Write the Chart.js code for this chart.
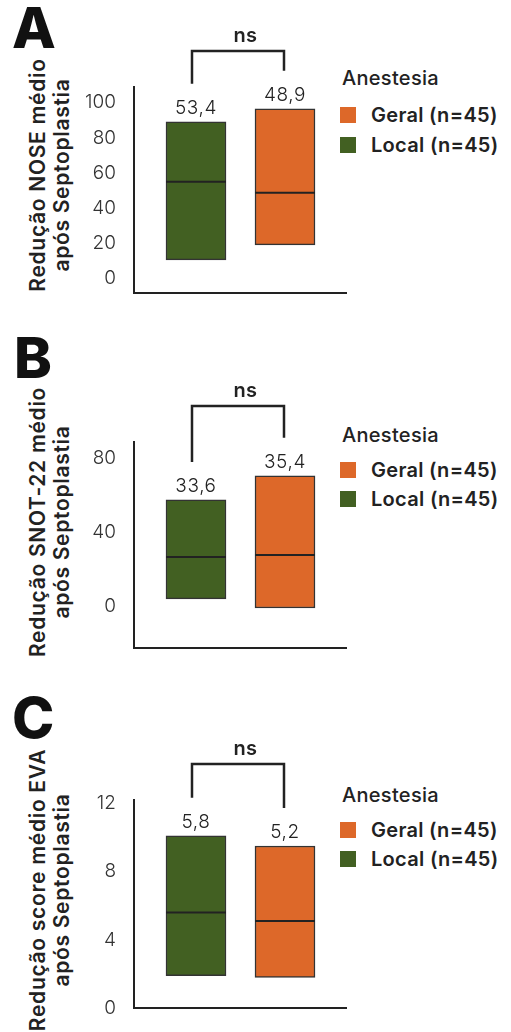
<!DOCTYPE html>
<html>
<head>
<meta charset="utf-8">
<script src="https://cdn.jsdelivr.net/npm/chart.js@4.4.0/dist/chart.umd.min.js"></script>
<style>
  html, body { margin: 0; padding: 0; background: #fff; }
  body { width: 511px; height: 1032px; position: relative; overflow: hidden; font-family: Inter, 'Noto Sans', sans-serif; color: #222; }
  canvas { position: absolute; left: 0; }
  .letter { position: absolute; font-size: 57px; font-weight: 800; line-height: 1; color: #111; }
  .ytitle { position: absolute; width: 320px; height: 48px; line-height: 24px; text-align: center;
            font-size: 21px; font-weight: 600; letter-spacing: 0.7px; transform: rotate(-90deg); white-space: nowrap; }
  .legend { position: absolute; left: 340px; font-size: 20px; letter-spacing: 0.3px; }
  .legend div { position: absolute; white-space: nowrap; height: 24px; line-height: 24px; }
  .legend .head { left: 2px; font-weight: 500; }
  .legend .item { left: 0; font-weight: 600; padding-left: 31px; }
  .legend .item i { position: absolute; left: 0; top: 4px; width: 16px; height: 16px; }
</style>
</head>
<body>

<div class="letter" style="left:12px; top:-1px">A</div>
<div class="ytitle" id="t0" style="left:-110px; top:151px"></div>
<div class="legend" id="l0" style="top:0"></div>
<canvas id="c0" width="511" height="320" style="top:0"></canvas>

<div class="letter" style="left:14px; top:329px">B</div>
<div class="ytitle" id="t1" style="left:-110px; top:498px"></div>
<div class="legend" id="l1" style="top:0"></div>
<canvas id="c1" width="511" height="350" style="top:320px"></canvas>

<div class="letter" style="left:12px; top:689px">C</div>
<div class="ytitle" id="t2" style="left:-110px; top:866px"></div>
<div class="legend" id="l2" style="top:0"></div>
<canvas id="c2" width="511" height="362" style="top:670px"></canvas>

<script>
// grupos (ordem no eixo x: Local à esquerda, Geral à direita)
const groups = ['Local (n=45)', 'Geral (n=45)'];
const groupColors = ['#426022', '#DD6829'];
const groupPos = [1, 2];
const legendOrder = [1, 0];
const legendTitle = 'Anestesia';

// A - NOSE
const noseLow = [10.3, 18.9];
const noseHigh = [89.1, 96.6];
const noseMedian = [54.9, 48.6];
const noseMean = [53.4, 48.9];
const noseTicks = [0, 20, 40, 60, 80, 100];

// B - SNOT-22
const snotLow = [3.8, -1.1];
const snotHigh = [57.3, 70.3];
const snotMedian = [26.5, 27.6];
const snotMean = [33.6, 35.4];
const snotTicks = [0, 40, 80];

// C - EVA
const evaLow = [1.9, 1.8];
const evaHigh = [10.1, 9.5];
const evaMedian = [5.6, 5.1];
const evaMean = [5.8, 5.2];
const evaTicks = [0, 4, 8, 12];

const titles = [
    ['Redução NOSE médio', 'após Septoplastia'],
    ['Redução SNOT-22 médio', 'após Septoplastia'],
    ['Redução score médio EVA', 'após Septoplastia']
];
const signif = ['ns', 'ns', 'ns'];

const fmt = v => v.toFixed(1).replace('.', ',');

const overlay = {
    id: 'overlay',
    afterDatasetsDraw(chart, args, opts) {
        const { ctx, chartArea } = chart;
        const y = chart.scales.y;
        const bars = chart.getDatasetMeta(0).data;
        ctx.save();
        ctx.strokeStyle = '#222';
        ctx.fillStyle = '#222';
        ctx.textAlign = 'center';
        ctx.textBaseline = 'alphabetic';
        ctx.font = '300 19px Inter, "Noto Sans", sans-serif';
        ctx.letterSpacing = '0.6px';

        bars.forEach((bar, i) => {
            const py = y.getPixelForValue(opts.medians[i]);
            ctx.lineWidth = 2;
            ctx.beginPath();
            ctx.moveTo(bar.x - bar.width / 2, py);
            ctx.lineTo(bar.x + bar.width / 2, py);
            ctx.stroke();
            const top = Math.min(bar.y, bar.base);
            ctx.fillText(fmt(opts.means[i]), bar.x, top - 8);
        });

        // colchete de significância
        const legs = bars.map(b => Math.min(b.y, b.base) - 38);
        const by = chartArea.top - 36;
        ctx.lineWidth = 2.5;
        ctx.beginPath();
        ctx.moveTo(bars[0].x - 4, legs[0]);
        ctx.lineTo(bars[0].x - 4, by);
        ctx.lineTo(bars[1].x - 1, by);
        ctx.lineTo(bars[1].x - 1, legs[1]);
        ctx.stroke();
        ctx.font = '600 20px Inter, "Noto Sans", sans-serif';
        ctx.letterSpacing = '0.5px';
        ctx.fillText(opts.label, (bars[0].x + bars[1].x) / 2 + 5, by - 9);
        ctx.restore();
    }
};

function makePanel(idx, low, high, medians, means, ticks, yMin, yMax, pad) {
    document.getElementById('t' + idx).innerHTML = titles[idx].join('<br>');

    const leg = document.getElementById('l' + idx);
    let html = '<div class="head" style="top:' + (pad.legTop - 12) + 'px">' + legendTitle + '</div>';
    legendOrder.forEach((g, k) => {
        const t = pad.legTop + pad.legGap + k * pad.legStep - 12;
        html += '<div class="item" style="top:' + t + 'px"><i style="background:' + groupColors[g] + '"></i>' + groups[g] + '</div>';
    });
    leg.innerHTML = html;

    new Chart(document.getElementById('c' + idx), {
        type: 'bar',
        data: {
            datasets: [{
                data: groupPos.map((x, i) => ({ x: x, y: [low[i], high[i]] })),
                backgroundColor: groupColors,
                borderColor: '#333',
                borderWidth: 1.5,
                borderSkipped: false,
                barThickness: 60
            }]
        },
        options: {
            responsive: false,
            animation: false,
            layout: { padding: { left: 74, right: 165, top: pad.top, bottom: pad.bottom } },
            plugins: {
                legend: { display: false },
                tooltip: { enabled: false },
                overlay: { medians: medians, means: means, label: signif[idx] }
            },
            scales: {
                x: {
                    type: 'linear',
                    offset: false,
                    min: 0.3034,
                    max: 2.6854,
                    grid: { display: false },
                    ticks: { display: false },
                    border: { display: true, color: '#222', width: 2 },
                    afterFit: s => { s.height = 0; }
                },
                y: {
                    min: yMin,
                    max: yMax,
                    grid: { display: false },
                    border: { display: true, color: '#222', width: 2 },
                    ticks: {
                        padding: 10,
                        color: '#333',
                        font: { family: 'Inter, "Noto Sans", sans-serif', size: 19, weight: 300 }
                    },
                    afterBuildTicks: s => { s.ticks = ticks.map(v => ({ value: v })); },
                    afterFit: s => { s.width = 60; }
                }
            }
        },
        plugins: [overlay]
    });
}

makePanel(0, noseLow, noseHigh, noseMedian, noseMean, noseTicks, -8.6, 109, { top: 87, bottom: 27, legTop: 78, legGap: 37, legStep: 30 });
makePanel(1, snotLow, snotHigh, snotMedian, snotMean, snotTicks, -22.7, 88.6, { top: 122, bottom: 22, legTop: 435, legGap: 35, legStep: 29 });
makePanel(2, evaLow, evaHigh, evaMedian, evaMean, evaTicks, 0, 12.2, { top: 130, bottom: 24, legTop: 795, legGap: 35, legStep: 29 });
</script>
</body>
</html>
